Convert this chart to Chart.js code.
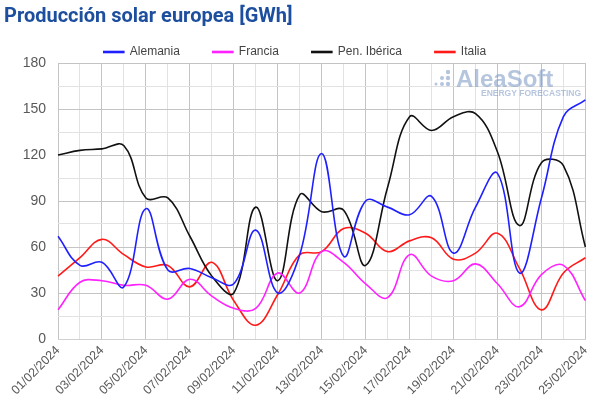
<!DOCTYPE html>
<html>
<head>
<meta charset="utf-8">
<script src="https://cdn.jsdelivr.net/npm/chart.js@4"></script>
<style>
  html, body { margin: 0; padding: 0; background: #fff; }
  #wrap { width: 600px; height: 418px; }
</style>
</head>
<body>
<div id="wrap"><canvas id="chart" width="600" height="418"></canvas></div>
<script>
// Producción solar europea, GWh por día
const labels = ['01/02/2024','02/02/2024','03/02/2024','04/02/2024','05/02/2024','06/02/2024','07/02/2024',
  '08/02/2024','09/02/2024','10/02/2024','11/02/2024','12/02/2024','13/02/2024','14/02/2024','15/02/2024',
  '16/02/2024','17/02/2024','18/02/2024','19/02/2024','20/02/2024','21/02/2024','22/02/2024','23/02/2024',
  '24/02/2024','25/02/2024'];
const alemania = [67,48,50,34,85,45,46,40,36,71,30,55,121,54,90,86,81,93,56,86,108,43,92,145,156];
const francia  = [19,37,38,35,35,26,39,28,20,20,43,30,57,50,36,27,55,41,38,49,36,21,42,48,25];
const iberica  = [120,123,124,126,92,92,67,41,30,86,38,94,83,84,48,99,145,136,145,147,122,74,115,113,60];
const italia   = [41,53,65,55,47,48,34,50,25,9,29,55,57,72,69,57,64,66,52,56,69,46,19,43,53];
const yTicks = [0, 30, 60, 90, 120, 150, 180];

// watermark
const watermark = {
  id: 'watermark',
  afterDatasetsDraw(chart) {
    const ctx = chart.ctx;
    ctx.save();
    ctx.fillStyle = 'rgba(120,150,195,0.55)';
    const dots = [[436,84,1.5],[442,84,2],[448,84,2.2],[442,78,2],[448,78,2.2],[448,72,2.2]];
    dots.forEach(d => { ctx.beginPath(); ctx.arc(d[0], d[1], d[2], 0, Math.PI * 2); ctx.fill(); });
    ctx.font = 'bold 24px "Liberation Sans", Arial';
    ctx.textBaseline = 'alphabetic';
    ctx.fillText('AleaSoft', 456, 87);
    ctx.font = 'bold 8.5px "Liberation Sans", Arial';
    ctx.fillText('ENERGY FORECASTING', 481, 96);
    ctx.restore();
  }
};

// keep the legend row compact while labels stay wide apart
const legendFit = {
  id: 'legendFit',
  beforeInit(chart) {
    const fit = chart.legend.fit;
    chart.legend.fit = function () {
      fit.call(this);
      this.height = 50;
    };
  }
};

const line = (label, data, color) => ({
  label, data,
  borderColor: color,
  backgroundColor: color,
  borderWidth: 1.6,
  pointRadius: 0,
  tension: 0.4,
  fill: false
});

new Chart(document.getElementById('chart'), {
  type: 'line',
  data: {
    labels: labels,
    datasets: [
      line('Alemania', alemania, '#2020ff'),
      line('Francia', francia, '#ff22ff'),
      line('Pen. Ibérica', iberica, '#111111'),
      line('Italia', italia, '#ff1a1a')
    ]
  },
  options: {
    responsive: false,
    animation: false,
    layout: { padding: { left: 4, right: 14, top: 0, bottom: 0 } },
    plugins: {
      title: {
        display: true,
        text: 'Producción solar europea [GWh]',
        align: 'start',
        color: '#1d4f9e',
        font: { family: 'Roboto, sans-serif', size: 20, weight: 'bold' },
        padding: { top: 5, bottom: -16 }
      },
      legend: {
        position: 'top',
        labels: {
          boxWidth: 20,
          boxHeight: 1,
          padding: 33,
          color: '#444',
          font: { family: '"Liberation Sans", Arial', size: 12 }
        }
      },
      tooltip: { enabled: false }
    },
    scales: {
      x: {
        grid: {
          color: ctx => (ctx.index % 2 === 0 ? '#c4c4c4' : '#e2e2e2'),
          drawTicks: false
        },
        border: { color: '#d0d0d0' },
        ticks: {
          autoSkip: false,
          maxRotation: 45,
          minRotation: 45,
          padding: 4,
          color: '#595959',
          font: { family: '"Liberation Sans", Arial', size: 12.5 },
          callback: (v, i) => (i % 2 === 0 ? labels[i] : '')
        },
        afterFit: s => { s.height = 79; }
      },
      y: {
        min: 0,
        max: 180,
        grid: {
          color: ctx => (ctx.tick.value % 30 === 0 ? '#c4c4c4' : '#e2e2e2'),
          drawTicks: false
        },
        border: { display: false },
        ticks: {
          stepSize: 15,
          padding: 12,
          color: '#595959',
          font: { family: '"Liberation Sans", Arial', size: 14 },
          callback: v => (yTicks.includes(v) ? v : '')
        },
        afterFit: s => { s.width = 54; }
      }
    }
  },
  plugins: [watermark, legendFit]
});
</script>
</body>
</html>
